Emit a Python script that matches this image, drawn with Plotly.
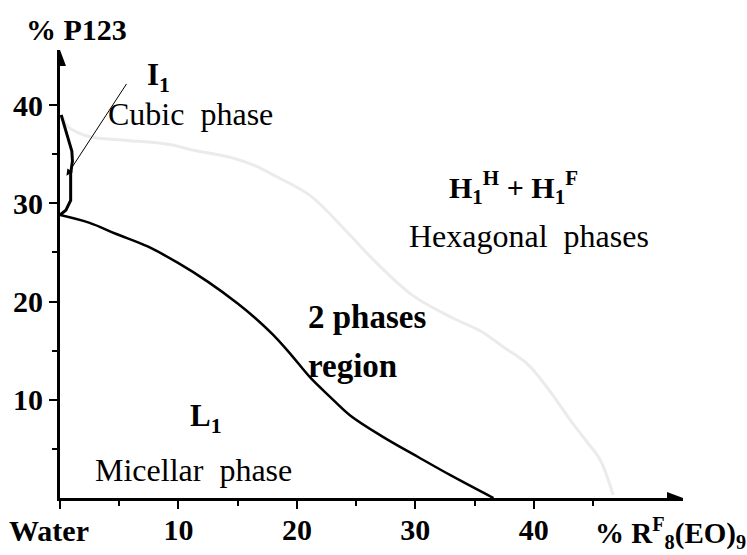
import plotly.graph_objects as go

# Boundary of the isotropic micellar phase L1
l1_x = [0, 2.5, 4.7, 7.4, 10, 12.5, 15, 16.5, 18.0, 19.5, 21.1, 22.8, 24.5, 27.3, 30.2, 33.0, 36.6]
l1_y = [28.8, 28.0, 26.9, 25.6, 23.9, 22.0, 19.8, 18.3, 16.6, 14.6, 12.3, 10.3, 8.4, 6.2, 4.2, 2.3, 0]

# Narrow cubic phase I1 along the P123 axis
cub_x = [0.1, 0.55, 1.0, 1.05, 0.9, 0.9, 0.5, 0]
cub_y = [39.0, 37.2, 35.3, 34.3, 33.0, 30.3, 29.3, 28.8]

# Faint boundary of the hexagonal domain
hex_x = [0.2, 0.6, 1.5, 2.8, 5.7, 9.1, 11.3, 14.6, 16.5, 18.3, 21.1, 24.3, 26.5,
         29.8, 33.2, 35.5, 37.4, 39.5, 41.4, 43.1, 44.5, 45.6, 46.7]
hex_y = [38.8, 37.9, 37.2, 36.7, 36.4, 36.0, 35.4, 34.6, 33.8, 32.7, 30.8, 27.0, 24.2,
         20.6, 18.3, 17.0, 15.4, 13.6, 10.8, 7.9, 5.7, 3.9, 0.3]

x_ticks = [0, 10, 20, 30, 40]
x_ticktext = ["", "10", "20", "30", "40"]
y_ticks = [10, 20, 30, 40]
y_ticktext = ["10", "20", "30", "40"]

X_MAX, Y_MAX = 52.6, 45.6
SERIF = "Liberation Serif"

fig = go.Figure()
fig.add_trace(go.Scatter(x=hex_x, y=hex_y, mode="lines", line=dict(color="#ebebeb", width=3, shape="spline"),
                         hoverinfo="skip"))
fig.add_trace(go.Scatter(x=l1_x, y=l1_y, mode="lines", line=dict(color="black", width=2.5, shape="spline"),
                         hoverinfo="skip"))
fig.add_trace(go.Scatter(x=cub_x, y=cub_y, mode="lines", line=dict(color="black", width=3), hoverinfo="skip"))

# Arrowheads at the ends of both axes
fig.add_shape(type="path", xref="x", yref="y", xsizemode="pixel", ysizemode="pixel",
              xanchor=X_MAX, yanchor=0, path="M 0 0 L -16 6 L -16 -6 Z",
              fillcolor="black", line=dict(width=0))
fig.add_shape(type="path", xref="x", yref="y", xsizemode="pixel", ysizemode="pixel",
              xanchor=0, yanchor=Y_MAX, path="M 0 0 L -6 -16 L 6 -16 Z",
              fillcolor="black", line=dict(width=0))

labels = [
    dict(x=7.2, y=42.9, text="<b>I<sub>1</sub></b>", xanchor="left", size=31),
    dict(x=11.0, y=39.1, text="Cubic&nbsp; phase", xanchor="center", size=32),
    dict(x=38.3, y=31.6, text="<b>H<sub>1</sub><sup>H</sup> + H<sub>1</sub><sup>F</sup></b>", xanchor="center", size=30),
    dict(x=39.6, y=26.7, text="Hexagonal&nbsp; phases", xanchor="center", size=32),
    dict(x=20.8, y=18.4, text="<b>2 phases</b>", xanchor="left", size=33),
    dict(x=20.8, y=13.4, text="<b>region</b>", xanchor="left", size=33),
    dict(x=10.8, y=8.1, text="<b>L<sub>1</sub></b>", xanchor="left", size=31),
    dict(x=11.3, y=2.9, text="Micellar&nbsp; phase", xanchor="center", size=32),
]
for lb in labels:
    fig.add_annotation(x=lb["x"], y=lb["y"], xref="x", yref="y", text=lb["text"], showarrow=False,
                       xanchor=lb["xanchor"], yanchor="middle",
                       font=dict(family=SERIF, size=lb["size"], color="black"))

# Pointer from the I1 label to the cubic domain
fig.add_annotation(x=0.55, y=32.8, ax=5.7, ay=42.3, xref="x", yref="y", axref="x", ayref="y",
                   text="", showarrow=True, arrowhead=2, arrowsize=1.3, arrowwidth=1, arrowcolor="black")

# Axis captions
fig.add_annotation(x=0, y=0, xref="x", yref="y", text="<b>Water</b>", showarrow=False,
                   xanchor="center", yanchor="top", xshift=-11, yshift=-14,
                   font=dict(family=SERIF, size=30, color="black"))
fig.add_annotation(x=0.027, y=1.045, xref="paper", yref="paper", text="<b>% P123</b>", showarrow=False,
                   xanchor="center", yanchor="middle", font=dict(family=SERIF, size=30, color="black"))
fig.add_annotation(x=0.855, y=-0.03, xref="paper", yref="paper",
                   text="<b>% R<sup>F</sup><sub>8</sub>(EO)<sub>9</sub></b>", showarrow=False,
                   xanchor="left", yanchor="top", font=dict(family=SERIF, size=29, color="black"))

axis_common = dict(showgrid=False, zeroline=False, showline=True, linecolor="black", linewidth=3,
                   ticks="outside", tickwidth=1.5, tickcolor="black", ticklen=8, automargin=False,
                   tickfont=dict(family=SERIF, size=30, color="black", weight="bold"))

fig.update_xaxes(range=[0, X_MAX], tickvals=x_ticks, ticktext=x_ticktext, ticklabelstandoff=-5,
                 minor=dict(ticks="outside", ticklen=5, tickwidth=1.5, tickcolor="black",
                            tickvals=[5, 15, 25, 35, 45]),
                 **axis_common)
fig.update_yaxes(range=[0, Y_MAX], tickvals=y_ticks, ticktext=y_ticktext, ticklabelstandoff=0,
                 minor=dict(ticks="outside", ticklen=5, tickwidth=1.5, tickcolor="black",
                            tickvals=[5, 15, 25, 35]),
                 **axis_common)

fig.update_layout(width=747, height=555, margin=dict(l=60, r=64, t=50, b=57, autoexpand=False),
                  paper_bgcolor="white", plot_bgcolor="white", showlegend=False,
                  font=dict(family=SERIF))

fig.write_html("out.html")
